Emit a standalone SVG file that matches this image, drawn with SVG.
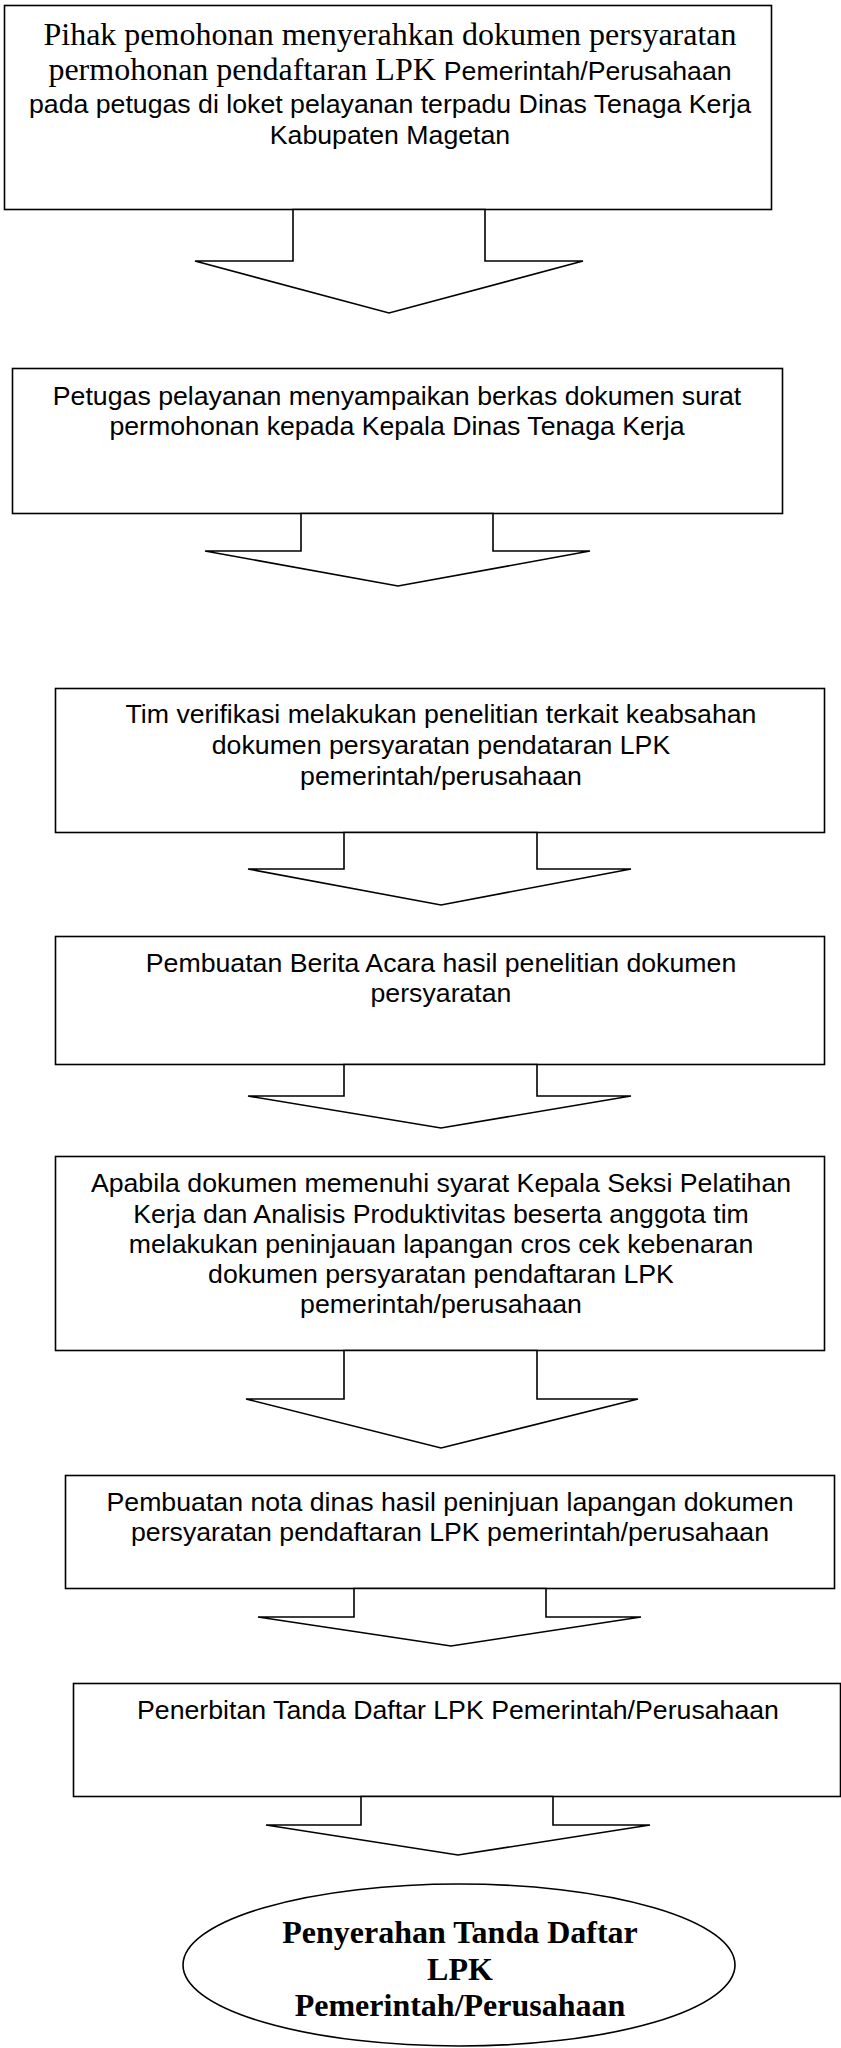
<svg xmlns="http://www.w3.org/2000/svg" width="841" height="2048" viewBox="0 0 841 2048">
  <style>
    .box { fill: #ffffff; stroke: #000000; stroke-width: 1.6; }
    .arrow { fill: #ffffff; stroke: #000000; stroke-width: 1.6; stroke-linejoin: miter; }
    .sans { font-family: "Liberation Sans", Arial, sans-serif; font-size: 26.7px; fill: #000000; }
    .serif { font-family: "Liberation Serif", "Times New Roman", serif; font-size: 32px; fill: #000000; }
    .bold { font-family: "Liberation Serif", "Times New Roman", serif; font-size: 32px; font-weight: bold; fill: #000000; }
    text { text-anchor: middle; }
  </style>
  <rect x="0" y="0" width="841" height="2048" fill="#ffffff"/>

  <!-- step 1 -->
  <g id="step1">
    <rect class="box" x="4.5" y="5.5" width="767" height="204"/>
    <text class="serif" x="390" y="45">Pihak pemohonan menyerahkan dokumen persyaratan</text>
    <text x="390" y="80"><tspan class="serif">permohonan pendaftaran LPK </tspan><tspan class="sans">Pemerintah/Perusahaan</tspan></text>
    <text class="sans" x="390" y="113">pada petugas di loket pelayanan terpadu Dinas Tenaga Kerja</text>
    <text class="sans" x="390" y="144">Kabupaten Magetan</text>
  </g>

  <!-- step 2 -->
  <g id="step2">
    <rect class="box" x="12.5" y="368.5" width="770" height="145"/>
    <text class="sans" x="397" y="405">Petugas pelayanan menyampaikan berkas dokumen surat</text>
    <text class="sans" x="397" y="435">permohonan kepada Kepala Dinas Tenaga Kerja</text>
  </g>

  <!-- step 3 -->
  <g id="step3">
    <rect class="box" x="55.5" y="688.5" width="769" height="144"/>
    <text class="sans" x="441" y="723">Tim verifikasi melakukan penelitian terkait keabsahan</text>
    <text class="sans" x="441" y="754">dokumen persyaratan pendataran LPK</text>
    <text class="sans" x="441" y="785">pemerintah/perusahaan</text>
  </g>

  <!-- step 4 -->
  <g id="step4">
    <rect class="box" x="55.5" y="936.5" width="769" height="128"/>
    <text class="sans" x="441" y="972">Pembuatan Berita Acara hasil penelitian dokumen</text>
    <text class="sans" x="441" y="1002">persyaratan</text>
  </g>

  <!-- step 5 -->
  <g id="step5">
    <rect class="box" x="55.5" y="1156.5" width="769" height="194"/>
    <text class="sans" x="441" y="1192">Apabila dokumen memenuhi syarat Kepala Seksi Pelatihan</text>
    <text class="sans" x="441" y="1223">Kerja dan Analisis Produktivitas beserta anggota tim</text>
    <text class="sans" x="441" y="1253">melakukan peninjauan lapangan cros cek kebenaran</text>
    <text class="sans" x="441" y="1283">dokumen persyaratan pendaftaran LPK</text>
    <text class="sans" x="441" y="1313">pemerintah/perusahaan</text>
  </g>

  <!-- step 6 -->
  <g id="step6">
    <rect class="box" x="65.5" y="1475.5" width="769" height="113"/>
    <text class="sans" x="450" y="1511">Pembuatan nota dinas hasil peninjuan lapangan dokumen</text>
    <text class="sans" x="450" y="1541">persyaratan pendaftaran LPK pemerintah/perusahaan</text>
  </g>

  <!-- step 7 -->
  <g id="step7">
    <rect class="box" x="73.5" y="1683.5" width="767" height="113"/>
    <text class="sans" x="458" y="1719">Penerbitan Tanda Daftar LPK Pemerintah/Perusahaan</text>
  </g>

  <!-- final step -->
  <g id="finish">
    <ellipse class="box" cx="459" cy="1965" rx="276" ry="81"/>
    <text class="bold" x="460" y="1943">Penyerahan Tanda Daftar</text>
    <text class="bold" x="460" y="1980">LPK</text>
    <text class="bold" x="460" y="2016">Pemerintah/Perusahaan</text>
  </g>

  <!-- block arrows between steps -->
  <g id="connectors">
    <polygon class="arrow" points="293,209.5 293,261 195,261 389,313 583,261 485,261 485,209.5"/>
    <polygon class="arrow" points="301,513.5 301,551 205,551 398,586 590,551 493,551 493,513.5"/>
    <polygon class="arrow" points="344,832.5 344,869 248,869 441,905 631,869 537,869 537,832.5"/>
    <polygon class="arrow" points="344,1064.5 344,1096 248,1096 441,1128 631,1096 537,1096 537,1064.5"/>
    <polygon class="arrow" points="344,1350.5 344,1399 246,1399 441,1448 638,1399 537,1399 537,1350.5"/>
    <polygon class="arrow" points="354,1588.5 354,1617 258,1617 451,1646 641,1617 546,1617 546,1588.5"/>
    <polygon class="arrow" points="361,1796.5 361,1825 266,1825 458,1855 650,1825 553,1825 553,1796.5"/>
  </g>
</svg>
